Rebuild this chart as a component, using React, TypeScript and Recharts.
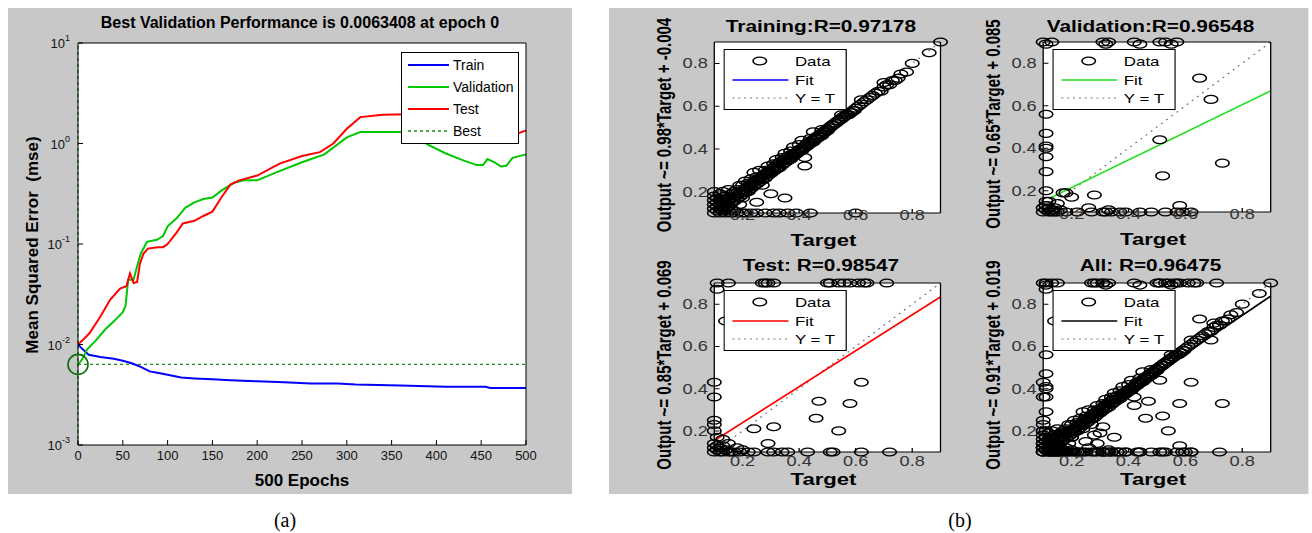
import React from "react";
import {
  LineChart,
  Line,
  ScatterChart,
  Scatter,
  XAxis,
  YAxis,
  CartesianGrid,
  ReferenceLine,
  ReferenceDot,
  Legend,
} from "recharts";

const FONT = "Arial, 'Liberation Sans', Helvetica, sans-serif";
const GRAY = "#c8c8c8";
// panel (b) is stretched sideways in the source figure
const STRETCH = 1.3;

// ---- (a) training performance ----
const epochTicks = [0, 50, 100, 150, 200, 250, 300, 350, 400, 450, 500];
const mseTicks = [0.001, 0.01, 0.1, 1, 10];
const mseMinorTicks = [
  0.002, 0.003, 0.004, 0.005, 0.006, 0.007, 0.008, 0.009,
  0.02, 0.03, 0.04, 0.05, 0.06, 0.07, 0.08, 0.09,
  0.2, 0.3, 0.4, 0.5, 0.6, 0.7, 0.8, 0.9,
  2, 3, 4, 5, 6, 7, 8, 9,
];
const bestMse = 0.0063408;
const bestEpoch = 0;

const trainEpochs = [0, 5, 12, 25, 40, 50, 60, 70, 80, 90, 100, 115, 130, 150, 170, 200, 230, 260, 290, 310, 360, 410, 455, 460, 500];
const trainMse = [0.01, 0.009, 0.0079, 0.0075, 0.0072, 0.0069, 0.0065, 0.006, 0.0054, 0.0052, 0.005, 0.0047, 0.0046, 0.0045, 0.0044, 0.0043, 0.0042, 0.0041, 0.0041, 0.004, 0.0039, 0.0038, 0.0038, 0.0037, 0.0037];

const valEpochs = [0, 5, 10, 20, 30, 40, 50, 53, 56, 62, 66, 70, 77, 88, 95, 100, 110, 120, 130, 140, 150, 160, 175, 185, 200, 220, 250, 275, 300, 315, 370, 380, 390, 410, 430, 445, 452, 457, 465, 472, 478, 485, 500];
const valMse = [0.0063, 0.0072, 0.0089, 0.011, 0.014, 0.017, 0.021, 0.024, 0.044, 0.044, 0.06, 0.08, 0.105, 0.11, 0.12, 0.15, 0.18, 0.23, 0.26, 0.28, 0.29, 0.34, 0.41, 0.43, 0.43, 0.51, 0.65, 0.78, 1.15, 1.3, 1.3, 1.15, 0.98, 0.8, 0.68, 0.61, 0.61, 0.7, 0.65, 0.59, 0.6, 0.72, 0.78];

const testEpochs = [0, 5, 13, 25, 36, 47, 54, 58, 62, 66, 69, 73, 78, 89, 95, 100, 110, 117, 130, 140, 150, 160, 170, 180, 200, 225, 250, 270, 285, 300, 315, 340, 370, 400, 430, 460, 485, 500];
const testMse = [0.01, 0.011, 0.013, 0.019, 0.028, 0.036, 0.038, 0.051, 0.041, 0.042, 0.063, 0.08, 0.09, 0.093, 0.093, 0.1, 0.13, 0.16, 0.17, 0.19, 0.21, 0.29, 0.39, 0.43, 0.48, 0.63, 0.75, 0.82, 1.0, 1.4, 1.83, 1.93, 1.95, 1.8, 1.6, 1.35, 1.2, 1.35];

// ---- (b) regression ----
const regTicks = [0.2, 0.4, 0.6, 0.8];
const regDomain = [0.1, 0.9];

const trainTarget = [
  // diagonal band
  0.14, 0.15, 0.16, 0.17, 0.18, 0.19, 0.2, 0.21, 0.22, 0.23,
  0.24, 0.25, 0.26, 0.27, 0.28, 0.29, 0.3, 0.31, 0.32, 0.33,
  0.34, 0.35, 0.36, 0.37, 0.38, 0.39, 0.4, 0.41, 0.42, 0.43,
  0.44, 0.45, 0.46, 0.47, 0.48, 0.49, 0.5, 0.51, 0.52, 0.53,
  0.54, 0.55, 0.56, 0.57, 0.58, 0.59, 0.6, 0.61, 0.62, 0.63,
  0.64, 0.65, 0.66, 0.67, 0.68, 0.69, 0.7, 0.71, 0.72, 0.73,
  0.74, 0.75, 0.76, 0.78, 0.8, 0.86, 0.9,
  0.145, 0.155, 0.165, 0.175, 0.185, 0.195, 0.205, 0.215, 0.225, 0.235,
  0.245, 0.255, 0.265, 0.275, 0.285, 0.295, 0.305, 0.315, 0.325, 0.335,
  0.345, 0.355, 0.365, 0.375, 0.385, 0.395, 0.405, 0.415, 0.425, 0.435,
  0.445, 0.455, 0.465, 0.475, 0.485, 0.495, 0.505, 0.515, 0.525, 0.535,
  0.545, 0.555, 0.565, 0.575, 0.585, 0.595,
  0.15, 0.16, 0.17, 0.18, 0.19, 0.2, 0.21, 0.22, 0.23, 0.24,
  0.25, 0.26, 0.27, 0.28, 0.29, 0.3, 0.31, 0.32, 0.33, 0.34,
  0.35, 0.36, 0.37, 0.38, 0.39, 0.4, 0.41, 0.42, 0.43, 0.44,
  0.45, 0.46, 0.47, 0.48, 0.49, 0.5,
  0.19, 0.21, 0.23, 0.26, 0.29, 0.32, 0.35, 0.38, 0.41, 0.45,
  0.16, 0.18, 0.2, 0.22, 0.25, 0.28, 0.31, 0.34, 0.37, 0.4, 0.44, 0.48, 0.55, 0.62, 0.7,
  // low cluster
  0.1, 0.1, 0.1, 0.1, 0.1, 0.11, 0.11, 0.11, 0.11, 0.12, 0.12, 0.12, 0.12, 0.12, 0.13, 0.13,
  0.13, 0.13, 0.14, 0.14, 0.14, 0.15, 0.15, 0.16, 0.16, 0.17, 0.18, 0.1, 0.13, 0.15, 0.17,
  // outliers
  0.24, 0.42, 0.42, 0.3, 0.35, 0.27, 0.22, 0.2, 0.25, 0.19,
  0.2, 0.21, 0.23, 0.25, 0.28, 0.31, 0.33, 0.36, 0.39, 0.44, 0.6,
];
const trainOutput = [
  0.15, 0.16, 0.15, 0.17, 0.18, 0.19, 0.2, 0.2, 0.22, 0.23,
  0.23, 0.25, 0.26, 0.26, 0.28, 0.29, 0.29, 0.31, 0.31, 0.33,
  0.33, 0.35, 0.35, 0.36, 0.38, 0.38, 0.39, 0.4, 0.41, 0.43,
  0.43, 0.44, 0.45, 0.46, 0.47, 0.48, 0.49, 0.5, 0.51, 0.52,
  0.53, 0.54, 0.55, 0.56, 0.57, 0.58, 0.59, 0.6, 0.61, 0.62,
  0.63, 0.64, 0.65, 0.66, 0.67, 0.67, 0.69, 0.7, 0.7, 0.72,
  0.72, 0.73, 0.75, 0.76, 0.8, 0.85, 0.9,
  0.16, 0.17, 0.17, 0.18, 0.2, 0.2, 0.21, 0.22, 0.23, 0.24,
  0.25, 0.26, 0.27, 0.28, 0.29, 0.3, 0.3, 0.32, 0.33, 0.34,
  0.35, 0.36, 0.37, 0.37, 0.38, 0.39, 0.4, 0.41, 0.42, 0.43,
  0.44, 0.45, 0.46, 0.47, 0.48, 0.49, 0.5, 0.51, 0.52, 0.53,
  0.54, 0.55, 0.56, 0.56, 0.57, 0.58,
  0.135, 0.145, 0.155, 0.165, 0.175, 0.185, 0.195, 0.205, 0.215, 0.225,
  0.235, 0.245, 0.255, 0.262, 0.275, 0.285, 0.295, 0.305, 0.312, 0.325,
  0.335, 0.345, 0.352, 0.365, 0.375, 0.385, 0.392, 0.405, 0.415, 0.425,
  0.432, 0.445, 0.455, 0.462, 0.475, 0.485,
  0.23, 0.25, 0.26, 0.3, 0.32, 0.35, 0.38, 0.41, 0.44, 0.48,
  0.19, 0.21, 0.23, 0.24, 0.27, 0.3, 0.33, 0.36, 0.39, 0.42, 0.45, 0.49, 0.56, 0.63, 0.71,
  0.1, 0.12, 0.14, 0.16, 0.18, 0.11, 0.13, 0.15, 0.17, 0.1, 0.12, 0.14, 0.16, 0.19, 0.11, 0.13,
  0.15, 0.17, 0.1, 0.12, 0.18, 0.11, 0.13, 0.1, 0.12, 0.11, 0.1, 0.2, 0.2, 0.21, 0.2,
  0.29, 0.36, 0.32, 0.19, 0.17, 0.23, 0.2, 0.17, 0.15, 0.14,
  0.1, 0.1, 0.1, 0.1, 0.1, 0.1, 0.1, 0.1, 0.1, 0.1, 0.1,
];

const valTarget = [
  0.1, 0.11, 0.13, 0.31, 0.32, 0.33, 0.42, 0.44, 0.51, 0.53, 0.55, 0.57,
  0.11, 0.11, 0.11, 0.11, 0.11, 0.11, 0.11, 0.11, 0.11,
  0.65, 0.69, 0.51, 0.52, 0.73, 0.28, 0.17, 0.18, 0.2,
  0.13, 0.15, 0.18, 0.22, 0.27, 0.31, 0.32, 0.34, 0.37, 0.39, 0.44, 0.48, 0.53, 0.57, 0.59, 0.62, 0.58, 0.33, 0.26,
  0.1, 0.1, 0.11, 0.11, 0.12, 0.12, 0.12, 0.13, 0.14, 0.14, 0.15, 0.16,
];
const valOutput = [
  0.9, 0.89, 0.9, 0.9, 0.89, 0.9, 0.9, 0.89, 0.9, 0.9, 0.89, 0.9,
  0.56, 0.47, 0.41, 0.4, 0.36, 0.29, 0.2, 0.15, 0.13,
  0.73, 0.63, 0.44, 0.27, 0.33, 0.18, 0.19, 0.19, 0.17,
  0.1, 0.1, 0.1, 0.1, 0.1, 0.1, 0.1, 0.1, 0.1, 0.1, 0.1, 0.1, 0.1, 0.1, 0.1, 0.1, 0.13, 0.11, 0.12,
  0.1, 0.12, 0.11, 0.13, 0.1, 0.12, 0.15, 0.11, 0.1, 0.12, 0.14, 0.11,
];

const testTarget = [
  0.11, 0.15, 0.27, 0.28, 0.29, 0.31, 0.5, 0.51, 0.54, 0.56, 0.58, 0.61, 0.63, 0.64, 0.71,
  0.11, 0.14,
  0.1, 0.1, 0.1, 0.1, 0.11, 0.1,
  0.24, 0.31, 0.46, 0.47, 0.54, 0.58, 0.62, 0.29, 0.15, 0.13, 0.18,
  0.12, 0.15, 0.17, 0.19, 0.22, 0.24, 0.29, 0.31, 0.34, 0.36, 0.43, 0.51, 0.52, 0.62, 0.72,
  0.1, 0.1, 0.1, 0.11, 0.11, 0.12, 0.13, 0.13, 0.14, 0.16, 0.2,
];
const testOutput = [
  0.9, 0.9, 0.9, 0.9, 0.9, 0.9, 0.9, 0.9, 0.9, 0.9, 0.9, 0.9, 0.9, 0.9, 0.9,
  0.87, 0.72,
  0.43, 0.36, 0.23, 0.25, 0.17, 0.2,
  0.21, 0.22, 0.26, 0.34, 0.2, 0.33, 0.43, 0.14, 0.14, 0.16, 0.12,
  0.1, 0.1, 0.1, 0.1, 0.1, 0.1, 0.1, 0.1, 0.1, 0.1, 0.1, 0.1, 0.1, 0.1, 0.1,
  0.1, 0.12, 0.14, 0.11, 0.13, 0.12, 0.1, 0.13, 0.11, 0.1, 0.11,
];

const allTarget = [...trainTarget, ...valTarget, ...testTarget];
const allOutput = [...trainOutput, ...valOutput, ...testOutput];

// fit line end points [target, output]
const trainFit = [[0.1, 0.094], [0.9, 0.878]];
const valFit = [[0.12, 0.163], [0.9, 0.67]];
const testFit = [[0.1, 0.154], [0.9, 0.834]];
const allFit = [[0.1, 0.11], [0.9, 0.838]];
const identityLine = [[0.1, 0.1], [0.9, 0.9]];

const perfLegend = [
  { name: "Train", color: "#0000ff", dash: undefined },
  { name: "Validation", color: "#00c800", dash: undefined },
  { name: "Test", color: "#ff0000", dash: undefined },
  { name: "Best", color: "#1a8f1a", dash: "3 3" },
];

function CenterText({ x, y, size, bold = false, rotate = 0, family = FONT, children }: any) {
  return (
    <div
      style={{
        position: "absolute",
        left: x,
        top: y,
        transform: `translate(-50%, -50%)${rotate ? ` rotate(${rotate}deg)` : ""}`,
        whiteSpace: "nowrap",
        fontSize: size,
        fontWeight: bold ? 700 : 400,
        fontFamily: family,
        lineHeight: 1,
        color: "#000",
      }}
    >
      {children}
    </div>
  );
}

function PowerTick({ x, y, payload }: any) {
  const exp = Math.round(Math.log10(payload.value));
  return (
    <text x={x - 8} y={y + 5} textAnchor="end" fontSize={13} fill="#111" fontFamily={FONT}>
      10<tspan dy={-7} fontSize={9}>{exp}</tspan>
    </text>
  );
}

function PerfLegend() {
  return (
    <svg width={118} height={92} style={{ display: "block" }}>
      <rect x={0.5} y={0.5} width={117} height={91} fill="#fff" stroke="#000" />
      {perfLegend.map((e, i) => {
        const y = 13 + i * 22;
        return (
          <g key={e.name}>
            <line x1={7} x2={48} y1={y} y2={y} stroke={e.color} strokeWidth={e.dash ? 1.3 : 2} strokeDasharray={e.dash} />
            <text x={52} y={y + 5} fontSize={14} fontFamily={FONT} fill="#000">
              {e.name}
            </text>
          </g>
        );
      })}
    </svg>
  );
}

function PerformancePlot() {
  const rows = (xs: number[], ys: number[]) => xs.map((epoch, i) => ({ epoch, mse: ys[i] }));
  return (
    <div style={{ position: "absolute", left: 8, top: 8, width: 564, height: 486, background: GRAY }}>
      <LineChart width={564} height={486} margin={{ top: 34, right: 44, bottom: 48, left: 68 }}>
        <CartesianGrid fill="#fff" horizontal={false} vertical={false} />
        <XAxis
          dataKey="epoch"
          type="number"
          domain={[0, 500]}
          ticks={epochTicks}
          interval={0}
          height={1}
          tickSize={-5}
          tickMargin={11}
          stroke="#000"
          tick={{ fontSize: 13, fill: "#111", fontFamily: FONT }}
        />
        <XAxis xAxisId="top" orientation="top" type="number" domain={[0, 500]} ticks={epochTicks} interval={0} height={1} tickSize={-5} tick={false} stroke="#000" />
        <YAxis
          scale="log"
          type="number"
          domain={[0.001, 10]}
          allowDataOverflow
          ticks={mseTicks}
          interval={0}
          width={1}
          tickSize={-5}
          tickMargin={5}
          stroke="#000"
          tick={<PowerTick />}
        />
        <YAxis yAxisId="minor" scale="log" type="number" domain={[0.001, 10]} allowDataOverflow ticks={mseMinorTicks} interval={0} width={1} tickSize={-3} tick={false} axisLine={false} stroke="#000" />
        <YAxis yAxisId="right" orientation="right" scale="log" type="number" domain={[0.001, 10]} allowDataOverflow ticks={mseTicks} interval={0} width={1} tickSize={-5} tick={false} stroke="#000" />
        <YAxis yAxisId="rminor" orientation="right" scale="log" type="number" domain={[0.001, 10]} allowDataOverflow ticks={mseMinorTicks} interval={0} width={1} tickSize={-3} tick={false} axisLine={false} stroke="#000" />
        <ReferenceLine y={bestMse} stroke="#1a8f1a" strokeDasharray="3 3" strokeWidth={1.3} />
        <ReferenceLine x={bestEpoch} stroke="#1a8f1a" strokeDasharray="3 3" strokeWidth={1.3} />
        <Line data={rows(trainEpochs, trainMse)} dataKey="mse" name="Train" stroke="#0000ff" strokeWidth={2} dot={false} isAnimationActive={false} />
        <Line data={rows(valEpochs, valMse)} dataKey="mse" name="Validation" stroke="#00c800" strokeWidth={2} dot={false} isAnimationActive={false} />
        <Line data={rows(testEpochs, testMse)} dataKey="mse" name="Test" stroke="#ff0000" strokeWidth={2} dot={false} isAnimationActive={false} />
        <ReferenceDot x={bestEpoch} y={bestMse} r={10} fill="none" stroke="#0a6e0a" strokeWidth={1.6} ifOverflow="visible" />
        <Legend
          layout="horizontal"
          verticalAlign="middle"
          align="center"
          wrapperStyle={{ left: 393, top: 44, width: 118, height: 92 }}
          content={() => <PerfLegend />}
        />
      </LineChart>
      <CenterText x={292} y={15} size={16} bold>
        Best Validation Performance is 0.0063408 at epoch 0
      </CenterText>
      <CenterText x={24} y={237} size={17} bold rotate={-90}>
        Mean Squared Error&nbsp;&nbsp;(mse)
      </CenterText>
      <CenterText x={294} y={472} size={17} bold>
        500 Epochs
      </CenterText>
    </div>
  );
}

function Ring(props: any) {
  return <ellipse cx={props.cx} cy={props.cy} rx={5.2} ry={3.9} fill="none" stroke="#000" strokeWidth={1.25} />;
}

function RegLegend({ color }: { color: string }) {
  return (
    <svg width={95} height={61} style={{ display: "block" }}>
      <rect x={0.5} y={0.5} width={94} height={60} fill="#fff" stroke="#000" />
      <ellipse cx={28} cy={12} rx={5.2} ry={3.9} fill="none" stroke="#000" strokeWidth={1.25} />
      <text x={55} y={17} fontSize={13} fontFamily={FONT} fill="#000">Data</text>
      <line x1={7} x2={50} y1={31} y2={31} stroke={color} strokeWidth={1.5} />
      <text x={55} y={36} fontSize={13} fontFamily={FONT} fill="#000">Fit</text>
      <line x1={7} x2={50} y1={49} y2={49} stroke="#777" strokeWidth={1.2} strokeDasharray="1.5 3" />
      <text x={55} y={54} fontSize={13} fontFamily={FONT} fill="#000">Y = T</text>
    </svg>
  );
}

type Box = { left: number; top: number; w: number; h: number };

function RegressionPanel({ title, yLabel, target, output, fit, color, box, topRow }: {
  title: string;
  yLabel: string;
  target: number[];
  output: number[];
  fit: number[][];
  color: string;
  box: Box;
  topRow: boolean;
}) {
  // outer space around the plot box; axes take 1px each
  const M = { left: 59, right: 13, top: 11, bottom: 23 };
  const W = box.w + M.left + M.right + 2;
  const H = box.h + M.top + M.bottom + 2;
  const points = target.map((t, i) => ({ t, o: output[i] }));
  const fmt = (v: number) => v.toFixed(1);
  const cx = box.left + box.w / 2;
  return (
    <>
      <div style={{ position: "absolute", left: box.left - M.left - 1, top: box.top - M.top - 1, width: W, height: H }}>
        <ScatterChart width={W} height={H} margin={M}>
          <CartesianGrid fill="#fff" horizontal={false} vertical={false} />
          <XAxis
            dataKey="t"
            type="number"
            domain={regDomain}
            ticks={regTicks}
            interval={0}
            tickFormatter={fmt}
            height={1}
            tickSize={-4}
            tickMargin={topRow ? 1 : 8}
            stroke="#000"
            tick={{ fontSize: 14, fill: "#333", fontFamily: FONT }}
          />
          <XAxis xAxisId="top" orientation="top" type="number" domain={regDomain} ticks={regTicks} interval={0} height={1} tickSize={-4} tick={false} stroke="#000" />
          <YAxis
            dataKey="o"
            type="number"
            domain={regDomain}
            ticks={regTicks}
            interval={0}
            tickFormatter={fmt}
            width={1}
            tickSize={-4}
            tickMargin={9}
            stroke="#000"
            tick={{ fontSize: 14, fill: "#333", fontFamily: FONT }}
          />
          <YAxis yAxisId="right" orientation="right" type="number" domain={regDomain} ticks={regTicks} interval={0} width={1} tickSize={-4} tick={false} stroke="#000" />
          <ReferenceLine
            segment={[{ x: identityLine[0][0], y: identityLine[0][1] }, { x: identityLine[1][0], y: identityLine[1][1] }]}
            stroke="#777"
            strokeWidth={1.2}
            strokeDasharray="1.5 4"
          />
          <Scatter data={points} shape={<Ring />} isAnimationActive={false} />
          <ReferenceLine
            segment={[{ x: fit[0][0], y: fit[0][1] }, { x: fit[1][0], y: fit[1][1] }]}
            stroke={color}
            strokeWidth={1.5}
          />
          <Legend
            layout="horizontal"
            verticalAlign="middle"
            align="center"
            wrapperStyle={{ left: M.left + 8, top: M.top + 8, width: 95, height: 61 }}
            content={() => <RegLegend color={color} />}
          />
        </ScatterChart>
      </div>
      <CenterText x={cx - 5} y={box.top - (topRow ? 15 : 17)} size={16} bold>
        {title}
      </CenterText>
      <CenterText x={box.left - 39} y={box.top + box.h / 2 - 3} size={15} bold rotate={-90}>
        {yLabel}
      </CenterText>
      <CenterText x={cx - 3} y={box.top + box.h + 27} size={17} bold>
        Target
      </CenterText>
    </>
  );
}

function RegressionPlots() {
  return (
    <div
      style={{
        position: "absolute",
        left: 609,
        top: 8,
        width: 700 / STRETCH,
        height: 486,
        background: GRAY,
        transform: `scaleX(${STRETCH})`,
        transformOrigin: "0 0",
      }}
    >
      <RegressionPanel
        title="Training:R=0.97178"
        yLabel="Output ~= 0.98*Target + -0.004"
        target={trainTarget}
        output={trainOutput}
        fit={trainFit}
        color="#0000ff"
        box={{ left: 81, top: 34, w: 174, h: 171 }}
        topRow
      />
      <RegressionPanel
        title="Validation:R=0.96548"
        yLabel="Output ~= 0.65*Target + 0.085"
        target={valTarget}
        output={valOutput}
        fit={valFit}
        color="#20e020"
        box={{ left: 334, top: 34, w: 175, h: 170 }}
        topRow
      />
      <RegressionPanel
        title="Test: R=0.98547"
        yLabel="Output ~= 0.85*Target + 0.069"
        target={testTarget}
        output={testOutput}
        fit={testFit}
        color="#ff0000"
        box={{ left: 81, top: 275, w: 174, h: 169 }}
        topRow={false}
      />
      <RegressionPanel
        title="All: R=0.96475"
        yLabel="Output ~= 0.91*Target + 0.019"
        target={allTarget}
        output={allOutput}
        fit={allFit}
        color="#000000"
        box={{ left: 334, top: 275, w: 175, h: 169 }}
        topRow={false}
      />
    </div>
  );
}

export default function App() {
  const serif = "'Times New Roman', 'Liberation Serif', serif";
  return (
    <div style={{ position: "absolute", left: 0, top: 0, width: 1312, height: 533, background: "#fff", fontFamily: FONT }}>
      <PerformancePlot />
      <RegressionPlots />
      <CenterText x={285} y={520} size={20} family={serif}>(a)</CenterText>
      <CenterText x={960} y={520} size={20} family={serif}>(b)</CenterText>
    </div>
  );
}
